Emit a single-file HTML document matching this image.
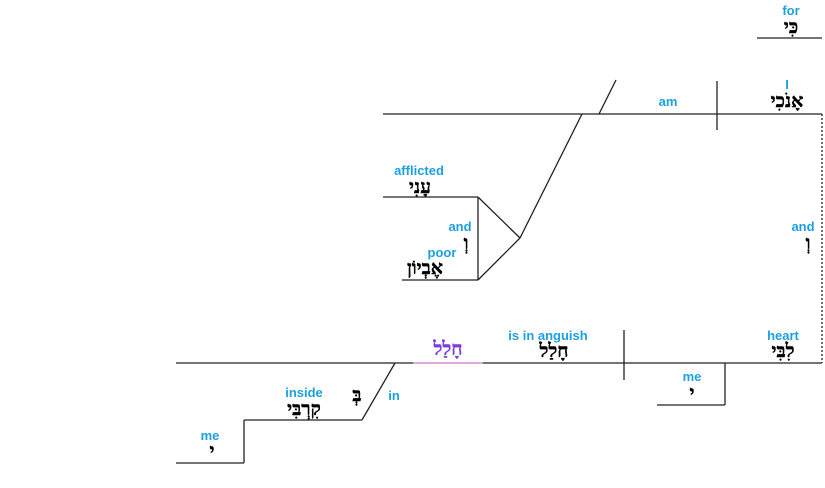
<!DOCTYPE html>
<html><head><meta charset="utf-8"><style>
html,body{margin:0;padding:0;background:#fff;width:825px;height:488px;overflow:hidden}
svg{display:block}
.e{font-family:"Liberation Sans",sans-serif;font-weight:bold;font-size:13px;fill:#1ea0e0;text-anchor:middle}
.h{font-family:"Liberation Serif","DejaVu Serif",serif;font-weight:bold;font-size:19px;fill:#000;stroke:#000;stroke-width:0.4;text-anchor:middle}
</style></head><body>
<svg width="825" height="488" viewBox="0 0 825 488" xmlns="http://www.w3.org/2000/svg">
<g stroke="#222" stroke-width="1.3" fill="none">
<line x1="757" y1="38" x2="822" y2="38"/>
<line x1="383" y1="114" x2="822" y2="114"/>
<line x1="717" y1="81" x2="717" y2="130"/>
<line x1="599" y1="114" x2="616" y2="80"/>
<line x1="582" y1="114" x2="520" y2="238"/>
<line x1="383" y1="197" x2="478" y2="197"/>
<line x1="478" y1="197" x2="478" y2="280"/>
<line x1="478" y1="197" x2="520" y2="238"/>
<line x1="478" y1="280" x2="520" y2="238"/>
<line x1="402" y1="280" x2="478" y2="280"/>
<line x1="176" y1="363" x2="822" y2="363"/>
<line x1="624" y1="330" x2="624" y2="380"/>
<line x1="725" y1="363" x2="725" y2="405"/>
<line x1="657" y1="405" x2="725" y2="405"/>
<line x1="362" y1="420" x2="395" y2="363"/>
<line x1="244" y1="420" x2="362" y2="420"/>
<line x1="244" y1="420" x2="244" y2="463"/>
<line x1="176" y1="463" x2="244" y2="463"/>
<line x1="822" y1="114" x2="822" y2="363" stroke-dasharray="2,2"/>
</g>
<line x1="413" y1="363" x2="483" y2="363" stroke="#e8a0e0" stroke-width="1.5"/>
<text class="e" x="791" y="15">for</text><text class="h" x="791" y="33">כִּי</text>
<text class="e" x="668" y="106">am</text>
<text class="e" x="787" y="89">I</text><text class="h" x="787" y="107">אָנֹכִי</text>
<text class="e" x="803" y="231">and</text><text class="h" x="808" y="249">וְ</text>
<text class="e" x="419" y="175">afflicted</text><text class="h" x="420" y="193">עָנִי</text>
<text class="e" x="460" y="231">and</text><text class="h" x="466" y="249">וְ</text>
<text class="e" x="442" y="257">poor</text><text class="h" x="425" y="274">אֶבְיוֹן</text>
<text class="h" x="448" y="355" style="fill:#7a3de0;stroke:#7a3de0">חָלַל</text>
<text class="e" x="548" y="340">is in anguish</text><text class="h" x="554" y="357">חָלַל</text>
<text class="e" x="783" y="340">heart</text><text class="h" x="783" y="357">לִבִּי</text>
<text class="e" x="692" y="381">me</text><text class="h" x="692" y="399">י</text>
<text class="e" x="304" y="397">inside</text><text class="h" x="304" y="415">קִרְבִּי</text>
<text class="h" x="357" y="401">בְּ</text>
<text class="e" x="394" y="400">in</text>
<text class="e" x="210" y="440">me</text><text class="h" x="212" y="457">י</text>
</svg>
</body></html>
